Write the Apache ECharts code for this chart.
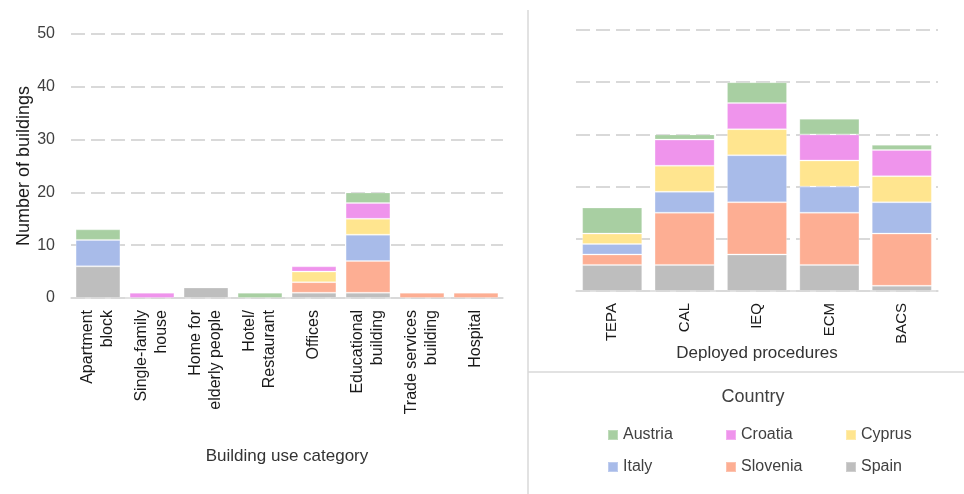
<!DOCTYPE html>
<html>
<head>
<meta charset="utf-8">
<script src="https://cdn.jsdelivr.net/npm/echarts@6/dist/echarts.min.js"></script>
<style>
html,body{margin:0;padding:0;background:#fff;}
#chart{width:964px;height:494px;}
</style>
</head>
<body>
<div id="chart"></div>
<script>
// ---- Data ----
const countries = ['Spain', 'Slovenia', 'Italy', 'Cyprus', 'Croatia', 'Austria'];
const legendOrder = ['Austria', 'Croatia', 'Cyprus', 'Italy', 'Slovenia', 'Spain'];
const countryColors = {
  Austria: '#a8cfa2', Croatia: '#ef94ec', Cyprus: '#ffe58f',
  Italy: '#a8bbe9', Slovenia: '#fdae93', Spain: '#bebebe'
};

const useCategories = ['Apartment\nblock', 'Single-family\nhouse', 'Home for\nelderly people', 'Hotel/\nRestaurant', 'Offices', 'Educational\nbuilding', 'Trade services\nbuilding', 'Hospital'];
const useSpain    = [6, 0, 2, 0, 1, 1, 0, 0];
const useSlovenia = [0, 0, 0, 0, 2, 6, 1, 1];
const useItaly    = [5, 0, 0, 0, 0, 5, 0, 0];
const useCyprus   = [0, 0, 0, 0, 2, 3, 0, 0];
const useCroatia  = [0, 1, 0, 0, 1, 3, 0, 0];
const useAustria  = [2, 0, 0, 1, 0, 2, 0, 0];

const procCategories = ['TEPA', 'CAL', 'IEQ', 'ECM', 'BACS'];
const procSpain    = [5, 5, 7, 5, 1];
const procSlovenia = [2, 10, 10, 10, 10];
const procItaly    = [2, 4, 9, 5, 6];
const procCyprus   = [2, 5, 5, 5, 5];
const procCroatia  = [0, 5, 5, 5, 5];
const procAustria  = [5, 1, 4, 3, 1];

const yTicks = [0, 10, 20, 30, 40, 50];

const useData = { Spain: useSpain, Slovenia: useSlovenia, Italy: useItaly, Cyprus: useCyprus, Croatia: useCroatia, Austria: useAustria };
const procData = { Spain: procSpain, Slovenia: procSlovenia, Italy: procItaly, Cyprus: procCyprus, Croatia: procCroatia, Austria: procAustria };

// ---- Chart ----
const FONT = 'Liberation Sans';
const chart = echarts.init(document.getElementById('chart'));

const gridLine = { show: true, lineStyle: { color: '#d9d9d9', width: 2, type: [14, 6] } };
const barBorder = { borderColor: 'rgba(255,255,255,0.25)', borderWidth: 1 };

const series = [];
countries.forEach(c => {
  series.push({
    name: c, type: 'bar', stack: 'use', xAxisIndex: 0, yAxisIndex: 0,
    barCategoryGap: '17%', data: useData[c].map(v => v === 0 ? null : v),
    itemStyle: Object.assign({ color: countryColors[c] }, barBorder)
  });
});
countries.forEach(c => {
  series.push({
    name: c, type: 'bar', stack: 'proc', xAxisIndex: 1, yAxisIndex: 1,
    barCategoryGap: '17%', data: procData[c].map(v => v === 0 ? null : v),
    itemStyle: Object.assign({ color: countryColors[c] }, barBorder)
  });
});

const legendPos = [
  [607, 427], [725, 427], [845, 427],
  [607, 459], [725, 459], [845, 459]
];
const legends = legendOrder.map((name, i) => ({
  left: legendPos[i][0], top: legendPos[i][1], data: [name],
  icon: 'rect', itemWidth: 10, itemHeight: 10, padding: 0,
  selectedMode: false,
  textStyle: { fontFamily: FONT, fontSize: 16, color: '#404040', padding: [0, 0, 0, 0] }
}));

chart.setOption({
  animation: false,
  backgroundColor: '#fff',
  title: [{
    text: 'Country', left: 753, top: 388, textAlign: 'center', padding: 0,
    textStyle: { fontFamily: FONT, fontSize: 18, fontWeight: 'normal', color: '#404040' }
  }],
  legend: legends,
  grid: [
    { left: 71, right: 461, top: 34, bottom: 196 },
    { left: 576, right: 26, top: 30, bottom: 203 }
  ],
  xAxis: [{
    type: 'category', gridIndex: 0, data: useCategories,
    axisLine: { lineStyle: { color: '#d9d9d9', width: 1.5 } },
    axisTick: { show: false },
    axisLabel: { rotate: 90, interval: 0, fontFamily: FONT, fontSize: 16, color: '#1a1a1a', lineHeight: 20, margin: 12 },
    name: 'Building use category', nameLocation: 'middle', nameGap: 150,
    nameTextStyle: { fontFamily: FONT, fontSize: 17, color: '#333' }
  }, {
    type: 'category', gridIndex: 1, data: procCategories,
    axisLine: { lineStyle: { color: '#d9d9d9', width: 1.5 } },
    axisTick: { show: false },
    axisLabel: { rotate: 90, interval: 0, fontFamily: FONT, fontSize: 15, color: '#1a1a1a', margin: 12 },
    name: 'Deployed procedures', nameLocation: 'middle', nameGap: 54, nameMoveOverlap: false,
    nameTextStyle: { fontFamily: FONT, fontSize: 17, color: '#333' }
  }],
  yAxis: [{
    type: 'value', gridIndex: 0, min: yTicks[0], max: yTicks[yTicks.length - 1], interval: 10,
    axisLine: { show: false }, axisTick: { show: false },
    axisLabel: { fontFamily: FONT, fontSize: 16, color: '#404040', margin: 16 },
    splitLine: gridLine,
    name: 'Number of buildings', nameLocation: 'middle', nameGap: 37,
    nameTextStyle: { fontFamily: FONT, fontSize: 18, color: '#1a1a1a' }
  }, {
    type: 'value', gridIndex: 1, min: yTicks[0], max: yTicks[yTicks.length - 1], interval: 10,
    axisLine: { show: false }, axisTick: { show: false },
    axisLabel: { show: false },
    splitLine: gridLine
  }],
  graphic: [
    { type: 'line', shape: { x1: 528, y1: 10, x2: 528, y2: 494 }, style: { stroke: '#d9d9d9', lineWidth: 1.5 } },
    { type: 'line', shape: { x1: 528, y1: 372, x2: 964, y2: 372 }, style: { stroke: '#d9d9d9', lineWidth: 1.5 } }
  ],
  series: series
});
</script>
</body>
</html>
